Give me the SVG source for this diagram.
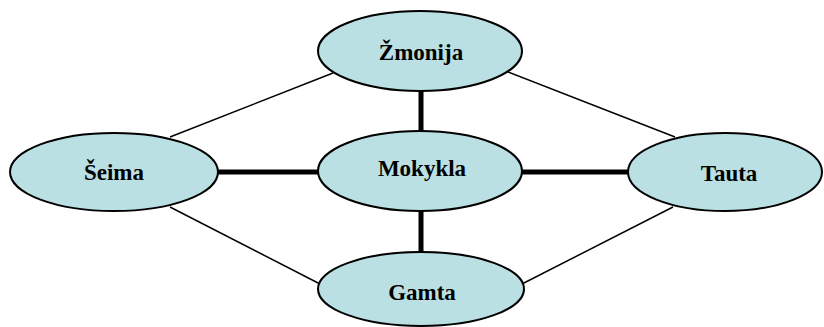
<svg xmlns="http://www.w3.org/2000/svg" width="824" height="327" viewBox="0 0 824 327">
<style>
.node ellipse{fill:#bbe0e3;stroke:#000;stroke-width:2}
.node text{font-family:"Liberation Serif","Times New Roman",serif;font-weight:bold;font-size:23px;text-anchor:middle;fill:#000}
.thin{stroke:#000;stroke-width:1.5;fill:none}
.thick{stroke:#000;stroke-width:5;fill:none}
</style>
<rect width="824" height="327" fill="#fff"/>
<g id="connectors">
<line class="thin" x1="170" y1="137" x2="333" y2="73"/>
<line class="thin" x1="508" y1="72" x2="675" y2="137"/>
<line class="thin" x1="170" y1="207" x2="322" y2="285"/>
<line class="thin" x1="673" y1="207" x2="520" y2="285"/>
<line class="thick" x1="421" y1="90" x2="421" y2="132"/>
<line class="thick" x1="218" y1="172" x2="319" y2="172"/>
<line class="thick" x1="522" y1="172" x2="628" y2="172"/>
<line class="thick" x1="421" y1="210" x2="421" y2="253"/>
</g>
<g id="zmonija" class="node"><ellipse cx="420" cy="51" rx="102" ry="40"/><text x="421" y="60">Žmonija</text></g>
<g id="seima" class="node"><ellipse cx="114" cy="172" rx="104" ry="39"/><text x="114" y="180">Šeima</text></g>
<g id="mokykla" class="node"><ellipse cx="420" cy="171" rx="102" ry="40"/><text x="422" y="176">Mokykla</text></g>
<g id="tauta" class="node"><ellipse cx="725" cy="172" rx="97" ry="39"/><text x="729" y="181">Tauta</text></g>
<g id="gamta" class="node"><ellipse cx="421" cy="289" rx="103" ry="37"/><text x="422" y="300">Gamta</text></g>
</svg>
